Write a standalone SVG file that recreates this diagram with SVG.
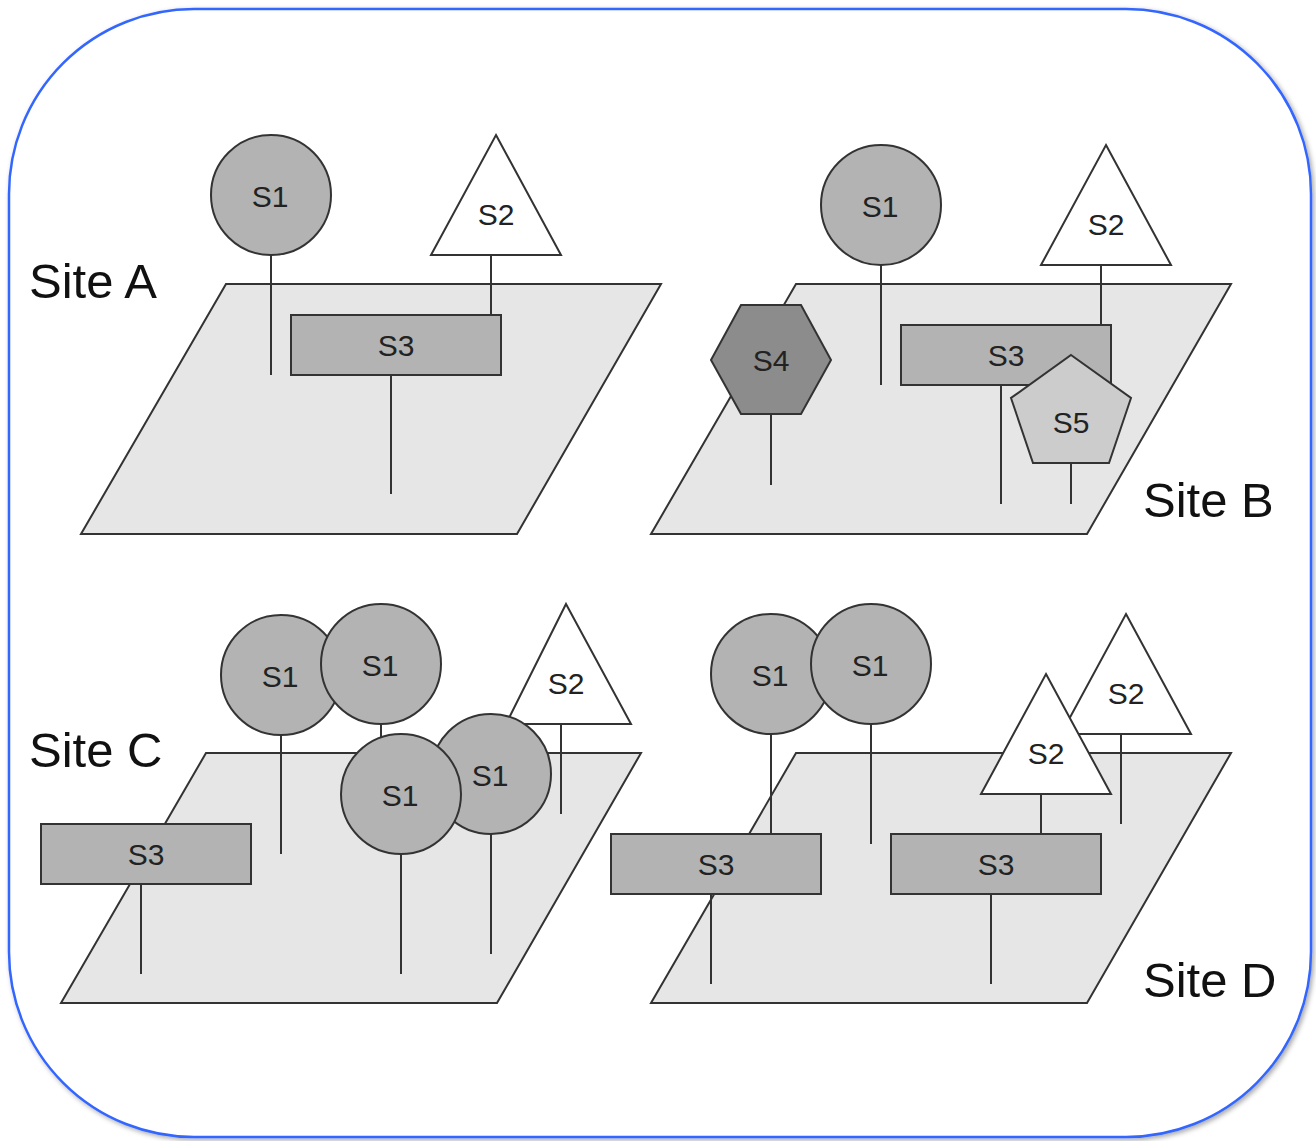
<svg xmlns="http://www.w3.org/2000/svg" width="1316" height="1141" viewBox="0 0 1316 1141">
<defs>
<filter id="sh" x="-5%" y="-5%" width="110%" height="110%">
<feDropShadow dx="2" dy="2" stdDeviation="2.5" flood-color="#000" flood-opacity="0.35"/>
</filter>
</defs>
<style>
.plane{fill:#e6e6e6;stroke:#333;stroke-width:2}
.c{fill:#b3b3b3;stroke:#333;stroke-width:2}
.r{fill:#b3b3b3;stroke:#333;stroke-width:2}
.t{fill:#fff;stroke:#333;stroke-width:2}
.h{fill:#8c8c8c;stroke:#333;stroke-width:2}
.p{fill:#cccccc;stroke:#333;stroke-width:2}
.s{stroke:#333;stroke-width:2;fill:none}
.lbl{font-family:"Liberation Sans",Arial,sans-serif;font-size:30px;fill:#222;text-anchor:middle}
.site{font-family:"Liberation Sans",Arial,sans-serif;font-size:49px;fill:#111}
</style>
<rect x="9" y="9" width="1302" height="1128" rx="185" ry="185" fill="#fff" stroke="#3366ff" stroke-width="2.5" filter="url(#sh)"/>

<g id="siteA">
<polygon class="plane" points="226,284 661,284 517,534 81,534"/>
<text class="site" x="29" y="298">Site A</text>
<g id="A-S1"><line class="s" x1="271" y1="255" x2="271" y2="375"/><circle class="c" cx="271" cy="195" r="60"/><text class="lbl" x="270" y="207">S1</text></g>
<g id="A-S2"><line class="s" x1="491" y1="255" x2="491" y2="315"/><polygon class="t" points="496,135 561,255 431,255"/><text class="lbl" x="496" y="225">S2</text></g>
<g id="A-S3"><line class="s" x1="391" y1="375" x2="391" y2="494"/><rect class="r" x="291" y="315" width="210" height="60"/><text class="lbl" x="396" y="356">S3</text></g>
</g>

<g id="siteB">
<polygon class="plane" points="796,284 1231,284 1087,534 651,534"/>
<text class="site" x="1143" y="517">Site B</text>
<g id="B-S1"><line class="s" x1="881" y1="265" x2="881" y2="385"/><circle class="c" cx="881" cy="205" r="60"/><text class="lbl" x="880" y="217">S1</text></g>
<g id="B-S2"><line class="s" x1="1101" y1="265" x2="1101" y2="325"/><polygon class="t" points="1106,145 1171,265 1041,265"/><text class="lbl" x="1106" y="235">S2</text></g>
<g id="B-S4"><line class="s" x1="771" y1="415" x2="771" y2="485"/><polygon class="h" points="741,305 801,305 831,360 801,414 741,414 711,360"/><text class="lbl" x="771" y="371">S4</text></g>
<g id="B-S3"><line class="s" x1="1001" y1="385" x2="1001" y2="504"/><rect class="r" x="901" y="325" width="210" height="60"/><text class="lbl" x="1006" y="366">S3</text></g>
<g id="B-S5"><line class="s" x1="1071" y1="463" x2="1071" y2="504"/><polygon class="p" points="1071,355 1131,398 1109,463 1033,463 1011,398"/><text class="lbl" x="1071" y="433">S5</text></g>
</g>

<g id="siteC">
<polygon class="plane" points="206,753 641,753 497,1003 61,1003"/>
<text class="site" x="29" y="767">Site C</text>
<g id="C-S3"><line class="s" x1="141" y1="884" x2="141" y2="974"/><rect class="r" x="41" y="824" width="210" height="60"/><text class="lbl" x="146" y="865">S3</text></g>
<g id="C-S1a"><line class="s" x1="281" y1="735" x2="281" y2="854"/><circle class="c" cx="281" cy="675" r="60"/><text class="lbl" x="280" y="687">S1</text></g>
<g id="C-S1b"><line class="s" x1="381" y1="724" x2="381" y2="744"/><circle class="c" cx="381" cy="664" r="60"/><text class="lbl" x="380" y="676">S1</text></g>
<g id="C-S2"><line class="s" x1="561" y1="724" x2="561" y2="814"/><polygon class="t" points="566,604 631,724 506,724"/><text class="lbl" x="566" y="694">S2</text></g>
<g id="C-S1d"><line class="s" x1="491" y1="834" x2="491" y2="954"/><circle class="c" cx="491" cy="774" r="60"/><text class="lbl" x="490" y="786">S1</text></g>
<g id="C-S1c"><line class="s" x1="401" y1="854" x2="401" y2="974"/><circle class="c" cx="401" cy="794" r="60"/><text class="lbl" x="400" y="806">S1</text></g>
</g>

<g id="siteD">
<polygon class="plane" points="796,753 1231,753 1087,1003 651,1003"/>
<text class="site" x="1143" y="997">Site D</text>
<g id="D-S1a"><line class="s" x1="771" y1="734" x2="771" y2="834"/><circle class="c" cx="771" cy="674" r="60"/><text class="lbl" x="770" y="686">S1</text></g>
<g id="D-S1b"><line class="s" x1="871" y1="724" x2="871" y2="844"/><circle class="c" cx="871" cy="664" r="60"/><text class="lbl" x="870" y="676">S1</text></g>
<g id="D-S2b"><line class="s" x1="1121" y1="734" x2="1121" y2="824"/><polygon class="t" points="1126,614 1191,734 1061,734"/><text class="lbl" x="1126" y="704">S2</text></g>
<g id="D-S2a"><line class="s" x1="1041" y1="794" x2="1041" y2="834"/><polygon class="t" points="1046,674 1111,794 981,794"/><text class="lbl" x="1046" y="764">S2</text></g>
<g id="D-S3a"><line class="s" x1="711" y1="894" x2="711" y2="984"/><rect class="r" x="611" y="834" width="210" height="60"/><text class="lbl" x="716" y="875">S3</text></g>
<g id="D-S3b"><line class="s" x1="991" y1="894" x2="991" y2="984"/><rect class="r" x="891" y="834" width="210" height="60"/><text class="lbl" x="996" y="875">S3</text></g>
</g>
</svg>
